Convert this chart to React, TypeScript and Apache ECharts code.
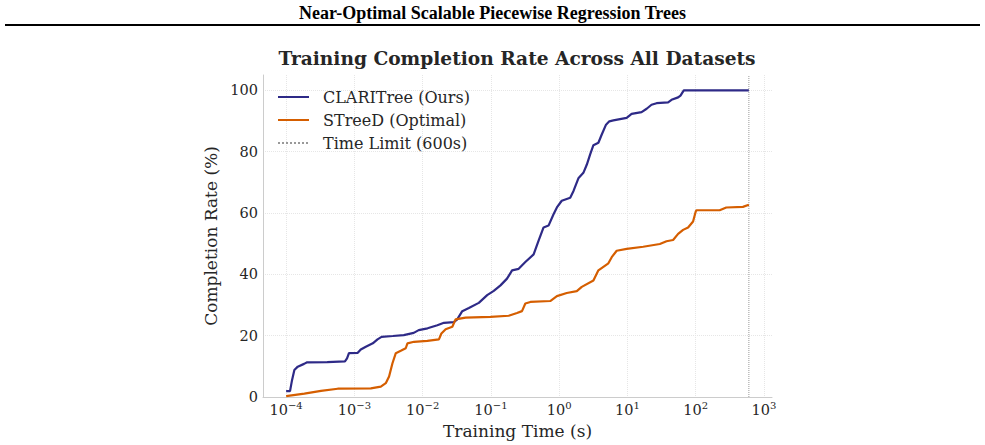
import React, { useEffect, useRef } from "react";
import * as echarts from "echarts";

// ---- text ----
const pageHeading = "Near-Optimal Scalable Piecewise Regression Trees";
const chartTitle = "Training Completion Rate Across All Datasets";
const xAxisName = "Training Time (s)";
const yAxisName = "Completion Rate (%)";
const clariName = "CLARITree (Ours)";
const streedName = "STreeD (Optimal)";
const limitName = "Time Limit (600s)";

// ---- axes ----
const timeLimitSeconds = 600;
const xTickExponents = [-4, -3, -2, -1, 0, 1, 2, 3];
const yTicks = [0, 20, 40, 60, 80, 100];

// ---- CLARITree: cumulative share of datasets finished by a given time ----
const clariTimes = [
  1.0e-4, 1.14e-4, 1.22e-4, 1.32e-4, 1.48e-4, 1.83e-4, 2.03e-4, 4.0e-4, 7.27e-4, 7.8e-4,
  8.32e-4, 1.12e-3, 1.24e-3, 1.47e-3, 1.86e-3, 2.18e-3, 2.5e-3, 3.65e-3, 5.28e-3, 7.4e-3,
  8.75e-3, 1.18e-2, 1.64e-2, 2.05e-2, 2.86e-2, 3.21e-2, 3.8e-2, 4.75e-2, 6.64e-2, 8.81e-2,
  0.11, 0.138, 0.172, 0.204, 0.255, 0.319, 0.422, 0.499, 0.59, 0.698,
  0.826, 0.925, 1.09, 1.45, 1.62, 1.91, 2.26, 2.54, 2.84, 3.17,
  3.75, 4.2, 4.85, 5.42, 6.21, 9.73, 11.5, 16.1, 19.1, 22.5,
  26.7, 39.4, 44.2, 55.2, 59.8, 66.8, 600,
];
const clariRates = [
  1.9, 1.9, 5.5, 8.8, 9.9, 10.8, 11.3, 11.4, 11.6, 12.6,
  14.3, 14.4, 15.5, 16.4, 17.5, 18.8, 19.6, 19.9, 20.2, 20.9,
  21.8, 22.4, 23.4, 24.2, 24.4, 25.3, 28.0, 29.0, 30.7, 33.2,
  34.6, 36.4, 38.6, 41.3, 41.8, 44.0, 46.5, 51.0, 55.3, 55.9,
  59.6, 61.8, 64.0, 65.0, 67.2, 71.3, 73.1, 75.8, 79.1, 82.1,
  82.9, 85.6, 88.8, 89.9, 90.2, 91.0, 92.3, 92.9, 94.0, 95.3,
  95.8, 96.1, 96.9, 97.7, 98.3, 100, 100,
];

// ---- STreeD ----
const streedTimes = [
  1.0e-4, 1.85e-4, 3.24e-4, 5.69e-4, 1.74e-3, 2.44e-3, 2.88e-3, 3.22e-3, 3.61e-3, 4.04e-3,
  4.78e-3, 5.65e-3, 5.98e-3, 7.47e-3, 1.17e-2, 1.73e-2, 1.88e-2, 2.17e-2, 2.72e-2, 3.03e-2,
  4.25e-2, 9.84e-2, 0.182, 0.241, 0.285, 0.319, 0.378, 0.739, 0.925, 1.29,
  1.81, 2.14, 3.17, 3.75, 5.25, 5.88, 6.95, 9.73, 17.0, 29.8,
  37.3, 46.6, 55.2, 65.3, 77.3, 91.4, 100, 103, 224, 280,
  491, 600,
];
const streedRates = [
  0.3, 1.1, 2.0, 2.7, 2.8, 3.4, 4.5, 6.7, 11.0, 14.3,
  15.1, 15.9, 17.5, 18.0, 18.3, 18.8, 20.7, 22.1, 22.9, 25.3,
  25.9, 26.1, 26.5, 27.4, 28.0, 30.5, 31.0, 31.3, 32.9, 33.9,
  34.5, 35.9, 38.0, 41.3, 43.6, 45.6, 47.7, 48.3, 49.0, 49.9,
  50.8, 51.2, 53.2, 54.5, 55.3, 57.2, 60.5, 60.9, 60.9, 61.8,
  62.0, 62.7,
];

const SERIF = "'DejaVu Serif', serif";
const TEXT = "#262626";
const CLARI_COLOR = "#2e2a87";
const STREED_COLOR = "#d55e00";

const toPoints = (times: number[], rates: number[]) =>
  times.map((t, i) => [Math.log10(t), rates[i]]);

// log-space padding of 5% on each side of the data range
const logLo = Math.log10(Math.min(...clariTimes, ...streedTimes));
const logHi = Math.log10(timeLimitSeconds);
const logPad = (logHi - logLo) * 0.05;

const yMax = 105;

export default function App() {
  const ref = useRef<HTMLDivElement>(null);

  useEffect(() => {
    if (!ref.current) return;
    const chart = echarts.init(ref.current, undefined, { renderer: "svg" });
    const limitX = Math.log10(timeLimitSeconds);

    chart.setOption({
      animation: false,
      backgroundColor: "#ffffff",
      title: [
        {
          text: pageHeading,
          left: "center",
          top: 4,
          padding: 0,
          textStyle: {
            fontFamily: "'Liberation Serif', 'Times New Roman', serif",
            fontWeight: "bold",
            fontSize: 18,
            color: "#000",
          },
        },
        {
          text: chartTitle,
          left: 517,
          textAlign: "center",
          top: 49,
          padding: 0,
          textStyle: {
            fontFamily: SERIF,
            fontWeight: "bold",
            fontSize: 18.6,
            color: TEXT,
          },
        },
      ],
      graphic: [
        {
          type: "rect",
          shape: { x: 5, y: 24, width: 975, height: 2 },
          style: { fill: "#000" },
        },
      ],
      legend: {
        orient: "vertical",
        left: 277,
        top: 89,
        itemWidth: 31,
        itemHeight: 14,
        itemGap: 7,
        padding: 0,
        // line-only keys: hide the marker drawn on top of each key line
        itemStyle: { opacity: 0 },
        textStyle: {
          fontFamily: SERIF,
          fontSize: 16,
          color: TEXT,
          lineHeight: 14,
          padding: [0, 0, 0, 9],
        },
        data: [clariName, streedName, limitName],
      },
      grid: { left: 263, right: 213, top: 75, bottom: 48 },
      xAxis: {
        type: "value",
        min: logLo - logPad,
        max: logHi + logPad,
        name: xAxisName,
        nameLocation: "middle",
        nameGap: 23,
        nameTextStyle: { fontFamily: SERIF, fontSize: 17, color: TEXT },
        axisLine: { show: true, onZero: false, lineStyle: { color: "#cccccc", width: 1 } },
        axisTick: { show: false, customValues: xTickExponents },
        axisLabel: {
          customValues: xTickExponents,
          margin: 3,
          formatter: (v: number) =>
            `{b|10}{s|${v < 0 ? "\u2212" : ""}${Math.abs(Math.round(v))}}`,
          rich: {
            b: { fontFamily: SERIF, fontSize: 14.5, color: TEXT, lineHeight: 20 },
            s: {
              fontFamily: SERIF,
              fontSize: 10,
              color: TEXT,
              lineHeight: 11,
              verticalAlign: "top",
            },
          },
        },
        splitLine: {
          show: true,
          lineStyle: { color: "#e6e6e6", type: "dotted", width: 1 },
        },
      },
      yAxis: {
        type: "value",
        min: 0,
        max: yMax,
        name: yAxisName,
        nameLocation: "middle",
        nameGap: 38,
        nameTextStyle: { fontFamily: SERIF, fontSize: 17, color: TEXT },
        axisLine: { show: true, onZero: false, lineStyle: { color: "#cccccc", width: 1 } },
        axisTick: { show: false, customValues: yTicks },
        axisLabel: {
          customValues: yTicks,
          margin: 5,
          fontFamily: SERIF,
          fontSize: 14.5,
          color: TEXT,
        },
        splitLine: {
          show: true,
          lineStyle: { color: "#e6e6e6", type: "dotted", width: 1 },
        },
      },
      series: [
        {
          name: clariName,
          type: "line",
          data: toPoints(clariTimes, clariRates),
          symbol: "none",
          color: CLARI_COLOR,
          lineStyle: { color: CLARI_COLOR, width: 2.2 },
          z: 3,
        },
        {
          name: streedName,
          type: "line",
          data: toPoints(streedTimes, streedRates),
          symbol: "none",
          color: STREED_COLOR,
          lineStyle: { color: STREED_COLOR, width: 2.2 },
          z: 3,
        },
        {
          name: limitName,
          type: "line",
          data: [
            [limitX, 0],
            [limitX, yMax],
          ],
          symbol: "none",
          color: "#999999",
          lineStyle: { color: "#999999", width: 1, type: "dotted" },
          z: 2,
        },
      ],
    });

    return () => chart.dispose();
  }, []);

  return (
    <div
      ref={ref}
      style={{ position: "absolute", left: 0, top: 0, width: 985, height: 445 }}
    />
  );
}
